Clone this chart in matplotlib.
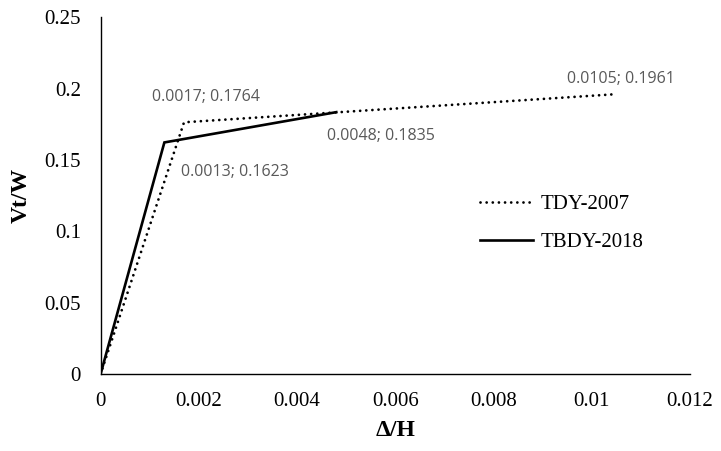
import matplotlib
matplotlib.use("Agg")
import matplotlib.pyplot as plt

# Pushover curves (drift ratio vs. base shear ratio)
tdy2007_drift = [0.0, 0.0017, 0.0105]
tdy2007_shear = [0.0, 0.1764, 0.1961]
tbdy2018_drift = [0.0, 0.0013, 0.0048]
tbdy2018_shear = [0.0, 0.1623, 0.1835]

series_names = ["TDY-2007", "TBDY-2018"]
x_ticks = [0, 0.002, 0.004, 0.006, 0.008, 0.01, 0.012]
x_tick_labels = ["0", "0.002", "0.004", "0.006", "0.008", "0.01", "0.012"]
y_ticks = [0, 0.05, 0.1, 0.15, 0.2, 0.25]
y_tick_labels = ["0", "0.05", "0.1", "0.15", "0.2", "0.25"]

serif = ["Liberation Serif", "DejaVu Serif"]
label_font = ["Open Sans", "DejaVu Sans"]
label_color = "#595959"

fig = plt.figure(figsize=(7.21, 4.51), dpi=100)
ax = fig.add_axes([0.1394, 0.170, 0.8176, 0.792])

ax.plot(tdy2007_drift, tdy2007_shear, color="black", lw=2.0,
        linestyle=(0, (0.01, 2.2)), dash_capstyle="round",
        label=series_names[0])
ax.plot(tbdy2018_drift, tbdy2018_shear, color="black", lw=1.9,
        solid_joinstyle="miter", label=series_names[1])

# value labels: (x, y, offset in points, horizontal alignment)
labelled = [
    (tdy2007_drift[1], tdy2007_shear[1], (16, 18), "center"),
    (tbdy2018_drift[1], tbdy2018_shear[1], (12, -21.5), "left"),
    (tbdy2018_drift[2], tbdy2018_shear[2], (32, -17), "center"),
    (tdy2007_drift[2], tdy2007_shear[2], (3, 11), "center"),
]
for x, y, off, ha in labelled:
    ax.annotate(f"{x:.4f}; {y:.4f}", (x, y), xytext=off,
                textcoords="offset points", ha=ha, va="center",
                fontsize=11.5, family=label_font, color=label_color)

ax.set_xlim(0, 0.012)
ax.set_ylim(0, 0.25)
ax.set_xticks(x_ticks)
ax.set_xticklabels(x_tick_labels)
ax.set_yticks(y_ticks)
ax.set_yticklabels(y_tick_labels)
ax.tick_params(axis="x", length=0, pad=13)
ax.tick_params(axis="y", length=0, pad=14)
for lab in ax.get_xticklabels() + ax.get_yticklabels():
    lab.set_family(serif)
    lab.set_fontsize(15)

for side in ("top", "right"):
    ax.spines[side].set_visible(False)
for side in ("left", "bottom"):
    ax.spines[side].set_linewidth(1.0)
    ax.spines[side].set_color("black")

ax.set_xlabel("Δ/H", family=serif, fontsize=17, fontweight="bold")
ax.set_ylabel("Vt/W", family=serif, fontsize=17, fontweight="bold")
ax.xaxis.set_label_coords(0.5, -0.128)
ax.yaxis.set_label_coords(-0.116, 0.5)

leg = ax.legend(loc="upper left", bbox_to_anchor=(0.644, 0.503),
                frameon=False, prop={"family": serif, "size": 15},
                handlelength=2.55, handletextpad=0.33, labelspacing=0.87,
                borderpad=0, borderaxespad=0)

fig.savefig("out.png", dpi=100)
